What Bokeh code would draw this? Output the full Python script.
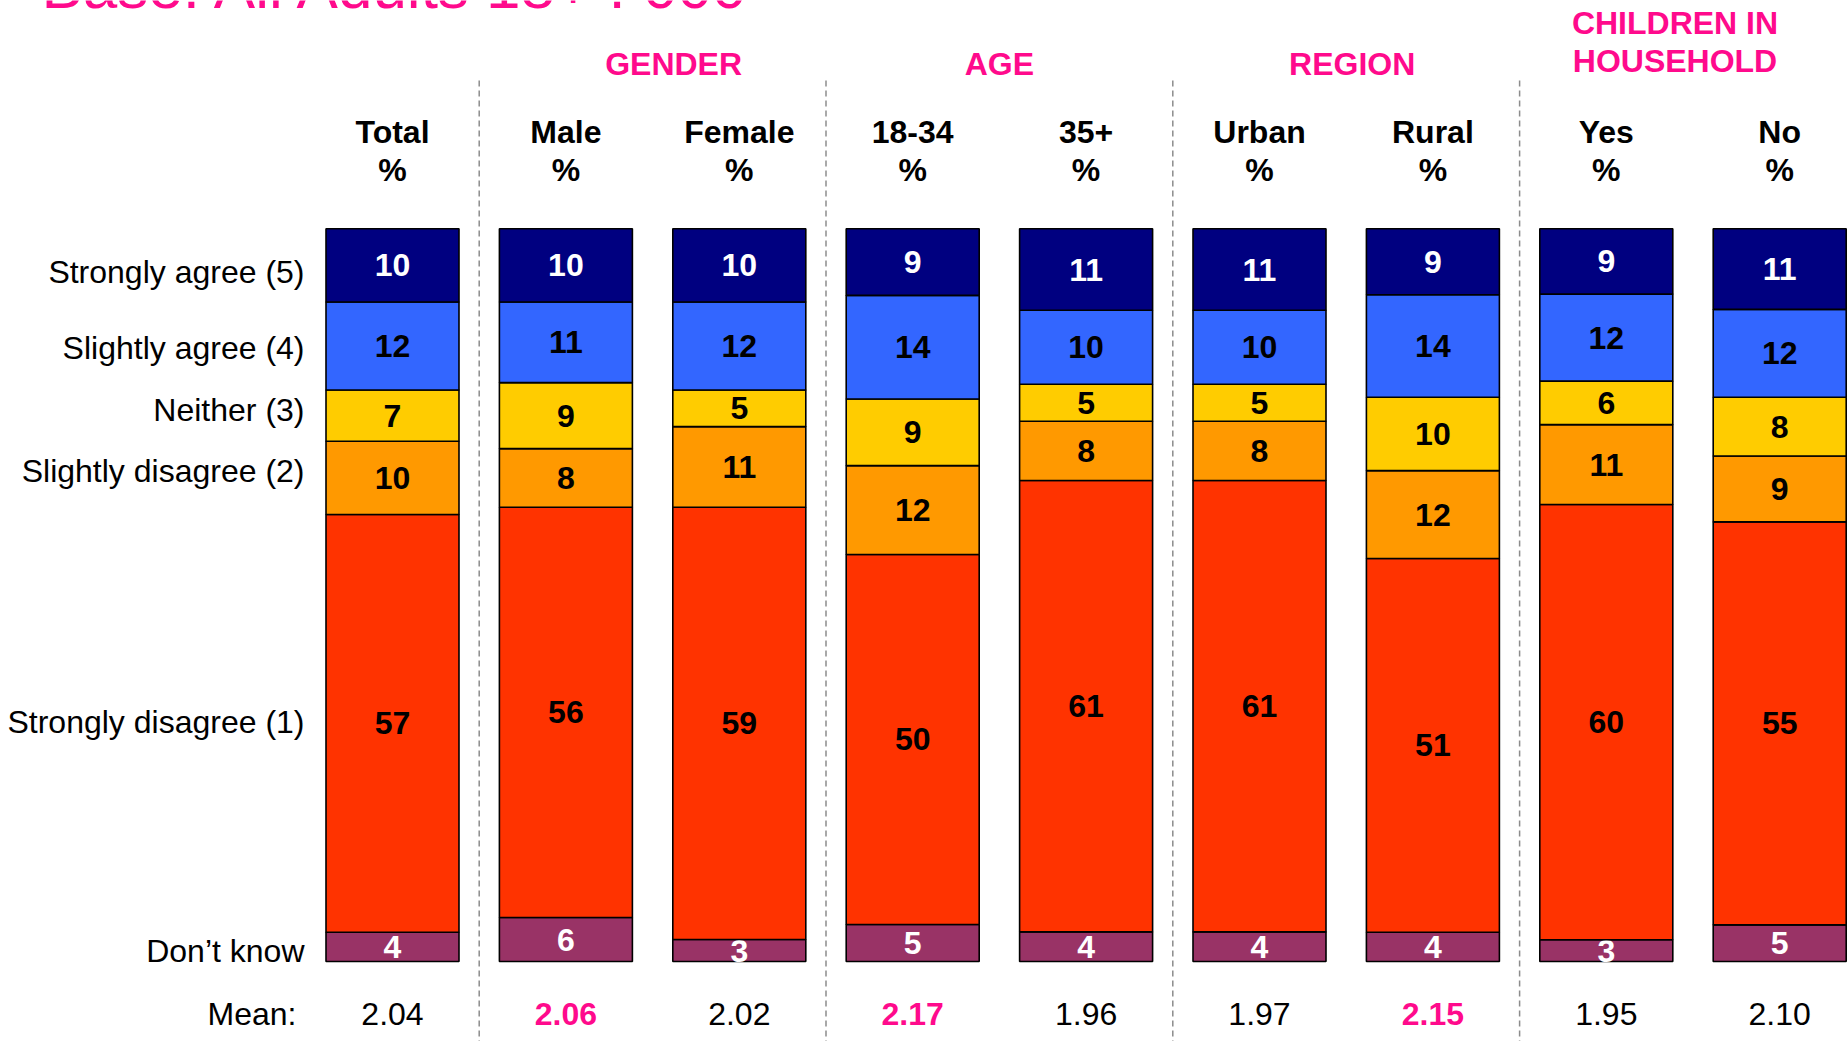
from bokeh.plotting import figure
from bokeh.models import ColumnDataSource, Range1d, Label
from bokeh.core.properties import value
from bokeh.embed import file_html
from bokeh.resources import INLINE

# ---------------- data ----------------
columns = ["Total", "Male", "Female", "18-34", "35+", "Urban", "Rural", "Yes", "No"]
group_names = ["GENDER", "AGE", "REGION", "CHILDREN IN HOUSEHOLD"]
group_members = [[1, 2], [3, 4], [5, 6], [7, 8]]

# answer categories, bottom of the stack first
categories = ["Don\u2019t know", "Strongly disagree (1)", "Slightly disagree (2)",
              "Neither (3)", "Slightly agree (4)", "Strongly agree (5)"]
dont_know = [4, 6, 3, 5, 4, 4, 4, 3, 5]
strongly_disagree = [57, 56, 59, 50, 61, 61, 51, 60, 55]
slightly_disagree = [10, 8, 11, 12, 8, 8, 12, 11, 9]
neither = [7, 9, 5, 9, 5, 5, 10, 6, 8]
slightly_agree = [12, 11, 12, 14, 10, 10, 14, 12, 12]
strongly_agree = [10, 10, 10, 9, 11, 11, 9, 9, 11]
series = [dont_know, strongly_disagree, slightly_disagree, neither, slightly_agree, strongly_agree]

means = ["2.04", "2.06", "2.02", "2.17", "1.96", "1.97", "2.15", "1.95", "2.10"]
mean_significant = [False, True, False, True, False, False, True, False, False]

title_text = "Base: All Adults 18+ : 000"

# ---------------- style ----------------
colors = ["#993366", "#FF3300", "#FF9900", "#FFCC00", "#3366FF", "#000080"]
label_colors = ["white", "black", "black", "black", "black", "white"]
row_label_nudge = [4, -1, -7, -6, 2, 7]       # px, fine vertical placement of row labels
header_shift = [21, 0, 6, -18]                # px, horizontal placement of group headers
PINK = "#FF0A8C"
FONT_NAME = "Liberation Sans"
FONT = value(FONT_NAME)
FS = "32px"

W, H = 1848, 1041
X0, XSTEP = 392.0, 173.4      # px of first column centre, px per column
Y0, YSTEP = 961.0, 7.327      # px of 0 %, px per %


def xd(px):
    return (px - X0) / XSTEP


def yd(px):
    return (Y0 - px) / YSTEP


p = figure(width=W, height=H, output_backend="svg", toolbar_location=None,
           x_range=Range1d(xd(0), xd(W)), y_range=Range1d(yd(H), yd(0)),
           min_border=0, outline_line_color=None,
           x_axis_location=None, y_axis_location=None)
p.xgrid.visible = False
p.ygrid.visible = False
p.background_fill_color = "white"
p.border_fill_color = "white"

xs = list(range(len(columns)))
totals = [sum(s[i] for s in series) for i in xs]

# ---------------- stacked bars ----------------
bottoms = [0.0] * len(xs)
centers_by_series = []
for k, s in enumerate(series):
    bot = bottoms[:]
    top = [bot[i] + 100.0 * s[i] / totals[i] for i in xs]
    mid = [(bot[i] + top[i]) / 2 for i in xs]
    centers_by_series.append(mid)
    src = ColumnDataSource(dict(x=xs, bottom=bot, top=top, mid=mid,
                                label=[str(v) for v in s]))
    p.vbar(x="x", bottom="bottom", top="top", width=0.767, source=src,
           fill_color=colors[k], line_color="black", line_width=1.6)
    p.text(x="x", y="mid", text="label", source=src,
           text_align="center", text_baseline="middle",
           text_font=FONT, text_font_size=FS, text_font_style="bold",
           text_color=label_colors[k])
    bottoms = top

# ---------------- row labels (aligned with Total column segments) ----------------
p.text(x=[xd(304)] * len(categories), y=[c[0] for c in centers_by_series],
       y_offset=row_label_nudge,
       text=categories, text_align="right", text_baseline="middle",
       text_font=FONT, text_font_size=FS, text_color="black")

# ---------------- column headers ----------------
p.text(x=xs, y=[yd(131)] * len(xs), text=columns, text_align="center",
       text_baseline="middle", text_font=FONT, text_font_size=FS,
       text_font_style="bold", text_color="black")
p.text(x=xs, y=[yd(169)] * len(xs), text=["%"] * len(xs), text_align="center",
       text_baseline="middle", text_font=FONT, text_font_size=FS,
       text_font_style="bold", text_color="black")

# ---------------- group headers ----------------
for name, members, dx in zip(group_names, group_members, header_shift):
    gx = sum(members) / len(members)
    if name == "CHILDREN IN HOUSEHOLD":
        lines = [("CHILDREN IN", 22), ("HOUSEHOLD", 60)]
    else:
        lines = [(name, 63)]
    for txt, py in lines:
        p.text(x=[gx], y=[yd(py)], text=[txt], x_offset=dx, text_align="center",
               text_baseline="middle", text_font=FONT, text_font_size=FS,
               text_font_style="bold", text_color=PINK)

# ---------------- group separators ----------------
sep_x = [(members[0] - 0.5) for members in group_members]
p.segment(x0=sep_x, y0=[yd(80)] * len(sep_x), x1=sep_x, y1=[yd(H)] * len(sep_x),
          line_color="#8C8C8C", line_width=1.5, line_dash="6 4")

# ---------------- means ----------------
p.text(x=[xd(296)], y=[yd(1013)], text=["Mean:"], text_align="right",
       text_baseline="middle", text_font=FONT, text_font_size=FS,
       text_color="black")
p.text(x=xs, y=[yd(1013)] * len(xs), text=means, text_align="center",
       text_baseline="middle", text_font=FONT, text_font_size=FS,
       text_font_style=["bold" if s else "normal" for s in mean_significant],
       text_color=[PINK if s else "black" for s in mean_significant])

# ---------------- title (cropped at the top edge, as in the reference) ----------------
p.add_layout(Label(x=xd(41), y=yd(-14), text=title_text, text_align="left",
                   text_baseline="middle", text_font=FONT_NAME, text_font_size="62px",
                   text_color=PINK))

open("out.html", "w").write(file_html(p, INLINE))
